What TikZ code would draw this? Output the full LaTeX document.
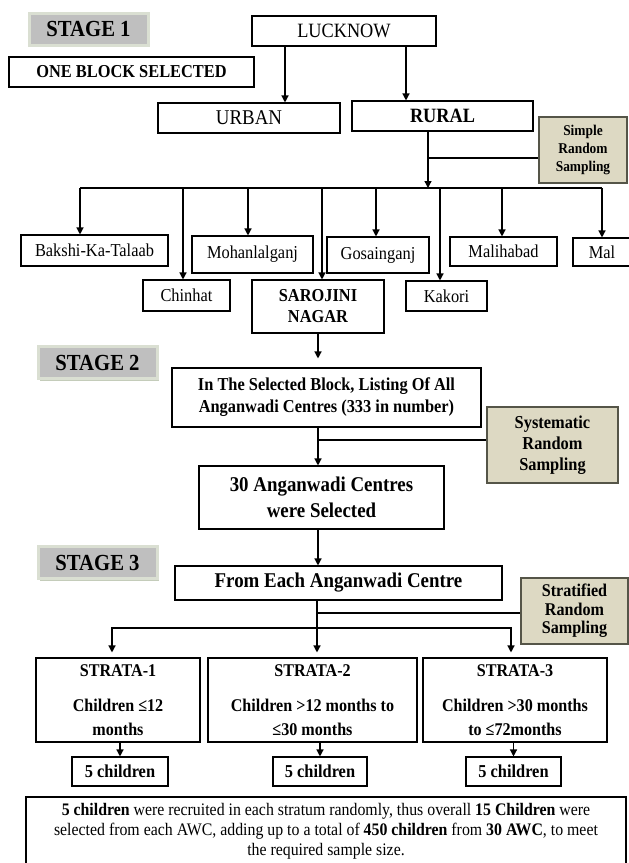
\documentclass[tikz,border=0pt]{standalone}
\usepackage{fontspec}
\setmainfont{Liberation Serif}[FakeStretch=0.9]
\usetikzlibrary{arrows.meta,shadows}
\definecolor{stagegrey}{RGB}{191,191,191}
\definecolor{stageedge}{RGB}{218,223,210}
\definecolor{stageshade}{RGB}{196,204,186}
\definecolor{samplebeige}{RGB}{221,217,195}
\definecolor{sampleedge}{RGB}{85,85,72}

\begin{document}
\begin{tikzpicture}[x=1pt,y=-1pt,>={Triangle[length=7pt,width=7pt]},
    box/.style={draw, line width=1.1pt, inner sep=0pt, align=center, font=\fontsize{18.2}{21}\selectfont},
    bbox/.style={box, font=\bfseries\fontsize{18.2}{21}\selectfont},
    wh/.style 2 args={minimum width=#1pt, minimum height=#2pt},
    stage/.style={fill=stagegrey, draw=stageedge, line width=3pt, wh={119}{32},
        font=\bfseries\fontsize{23}{24}\selectfont,
        drop shadow={shadow xshift=2pt, shadow yshift=-2pt, fill=stageshade, opacity=1}},
    sampling/.style={draw=sampleedge, fill=samplebeige, line width=1.5pt, inner sep=0pt, align=center,
        font=\bfseries\fontsize{18.2}{21}\selectfont},
    link/.style={line width=1.3pt},
    arr/.style={link, ->}]

  \useasboundingbox (0,0) rectangle (629,863);

  \node[stage] (stage1) at (88.5,29) {STAGE 1};
  \node[stage] (stage2) at (97.5,362.5) {STAGE 2};
  \node[stage] (stage3) at (97.5,562.5) {STAGE 3};

  \node[bbox, wh={245}{30}] (oneblock) at (131.5,72) {ONE BLOCK SELECTED};
  \node[box, wh={184}{30}, font=\fontsize{20.3}{22}\selectfont] (lucknow) at (344,31) {LUCKNOW};
  \node[box, wh={182}{30}, font=\fontsize{21}{22}\selectfont] (urban) at (249,118) {URBAN};
  \node[bbox, wh={181}{30}, font=\bfseries\fontsize{20.3}{22}\selectfont] (rural) at (442.5,116) {RURAL};
  \node[sampling, wh={88}{66}, font=\bfseries\fontsize{14.9}{18}\selectfont] (simple) at (583,150) {Simple\\Random\\Sampling};

  \node[box, wh={147}{31}] (bakshi) at (94.5,250.5) {Bakshi-Ka-Talaab};
  \node[box, wh={121}{37}] (mohan) at (252.5,254.5) {Mohanlalganj};
  \node[box, wh={102}{36}] (gosain) at (378,255) {Gosainganj};
  \node[box, wh={107}{29}] (malihabad) at (503.5,251.5) {Malihabad};
  \node[box, wh={58}{28}] (mal) at (602,252) {Mal};
  \node[box, wh={87}{31}] (chinhat) at (186.5,295.5) {Chinhat};
  \node[bbox, wh={132}{53}] (sarojini) at (318,306.5) {SAROJINI\\NAGAR};
  \node[box, wh={81}{30}] (kakori) at (446.5,296) {Kakori};

  \node[bbox, wh={309}{59}, font=\bfseries\fontsize{18.2}{22}\selectfont] (listing) at (326.5,397.5) {In The Selected Block, Listing Of All\\Anganwadi Centres (333 in number)};
  \node[sampling, wh={131}{76}] (systematic) at (552.5,445) {Systematic\\Random\\Sampling};
  \node[bbox, wh={245}{63}, font=\bfseries\fontsize{21}{26}\selectfont] (thirty) at (321.5,497.5) {30 Anganwadi Centres\\were Selected};

  \node[bbox, wh={327}{34}, font=\bfseries\fontsize{21}{24}\selectfont] (fromeach) at (338.5,583) {From Each Anganwadi Centre};
  \node[sampling, wh={107}{66}, font=\bfseries\fontsize{17.9}{18.5}\selectfont] (stratified) at (574.5,611) {Stratified\\Random\\Sampling};
  \node[bbox, wh={164}{84}, font=\bfseries\fontsize{17.9}{24}\selectfont] (strata1) at (118,700) {STRATA-1\\[11pt]Children ≤12\\months};
  \node[bbox, wh={209}{84}, font=\bfseries\fontsize{17.9}{24}\selectfont] (strata2) at (312.5,700) {STRATA-2\\[11pt]Children >12 months to\\≤30 months};
  \node[bbox, wh={184}{84}, font=\bfseries\fontsize{17.9}{24}\selectfont] (strata3) at (515,700) {STRATA-3\\[11pt]Children >30 months\\to ≤72months};
  \node[bbox, wh={96}{29}] (five1) at (120,771.5) {5 children};
  \node[bbox, wh={94}{29}] (five2) at (320,771.5) {5 children};
  \node[bbox, wh={95}{29}] (five3) at (513.5,771.5) {5 children};
  \node[box, wh={600}{69}, font=\fontsize{17.6}{20}\selectfont] (summary) at (326,831.5) {\textbf{5 children} were recruited in each stratum randomly, thus overall \textbf{15 Children} were\\selected from each AWC, adding up to a total of \textbf{450 children} from \textbf{30 AWC}, to meet\\the required sample size.};

  \coordinate (bus) at (428,188);
  \coordinate (simplejoin) at (428,158);
  \coordinate (sysjoin) at (318,440);
  \coordinate (stratjoin) at (317,613);
  \coordinate (split) at (317,628);

  \draw[arr] ([xshift=-59pt]lucknow.south) -- ([xshift=36pt]urban.north);
  \draw[arr] ([xshift=62pt]lucknow.south) -- ([xshift=-36.5pt]rural.north);
  \draw[arr] (rural.south -| bus) -- (bus);
  \draw[link] (simplejoin) -- (simplejoin -| simple.west);
  \draw[link] ([xshift=-14.5pt]bus -| bakshi.north) -- (bus -| mal.north);
  \foreach \n/\dx in {bakshi/-14.5, chinhat/-3.5, mohan/-4.5, sarojini/4, gosain/-2, kakori/-6.5, malihabad/-1.5, mal/0}
    \draw[arr] ([xshift=\dx pt]bus -| \n.north) -- ([xshift=\dx pt]\n.north);

  \draw[arr, shorten >=9pt] (sarojini.south) -- (sarojini.south |- listing.north);
  \draw[arr] (listing.south -| sysjoin) -- (sysjoin |- thirty.north);
  \draw[link] (sysjoin) -- (sysjoin -| systematic.west);
  \draw[arr] (thirty.south -| sysjoin) -- (sysjoin |- fromeach.north);

  \draw[arr, shorten >=5pt] (fromeach.south -| split) -- (split |- strata2.north);
  \draw[link] (stratjoin) -- (stratjoin -| stratified.west);
  \draw[arr, shorten >=5pt] (split) -| ([xshift=-6pt]strata1.north);
  \draw[arr, shorten >=5pt] (split) -| ([xshift=-4pt]strata3.north);
  \foreach \i in {1,2,3}
    \draw[arr] (five\i.north |- strata\i.south) -- (five\i.north);
\end{tikzpicture}
\end{document}
